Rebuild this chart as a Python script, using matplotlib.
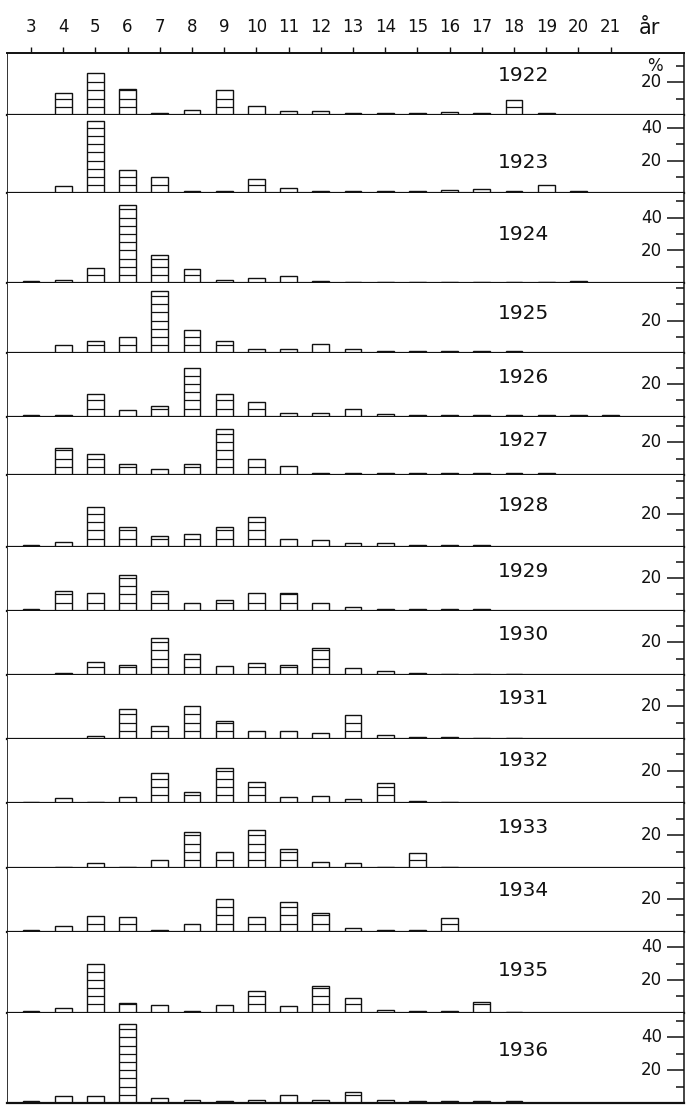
import numpy as np
import matplotlib
matplotlib.use('Agg')
import matplotlib.pyplot as plt
from matplotlib import transforms

# Ålder (år) och årsklasser
alder = list(range(3, 22))
ar = [1922, 1923, 1924, 1925, 1926, 1927, 1928, 1929,
      1930, 1931, 1932, 1933, 1934, 1935, 1936]

# Procentuell åldersfördelning, ålder 3..21
p1922 = [0, 13.5, 25.5, 16, 1.5, 3, 15, 5.5, 2.2, 2.5, 1.2, 1.2, 1.5, 2, 1.2, 9, 1.2, 0, 0]
p1923 = [0, 4.3, 44, 14, 10, 1.2, 1.2, 9, 3.5, 1.5, 1.2, 1.2, 1.5, 2, 2.5, 1.2, 5, 1.2, 0]
p1924 = [1.2, 2, 9.5, 47.5, 17.5, 8.8, 2, 3, 4.2, 1.2, 1, 1, 1, 1, 1, 1, 1, 1.2, 0]
p1925 = [0, 5, 7.5, 10, 38, 14, 7.5, 2.5, 2.5, 5.5, 2.5, 1.2, 1.2, 1.2, 1.2, 1.2, 0, 0, 0]
p1926 = [1, 1, 13.6, 4, 6.7, 29.5, 13.6, 8.8, 2.5, 2.5, 4.5, 1.5, 1.2, 1.2, 1.2, 1.2, 1.3, 1.2, 1]
p1927 = [0, 16.3, 12.8, 6.7, 3.7, 6.7, 28, 9.8, 5.3, 1.5, 1.5, 1.5, 1.5, 1, 1, 1, 1, 0, 0]
p1928 = [1, 3, 24, 12.2, 6.5, 8, 12.2, 18, 4.7, 3.9, 2, 2, 1.2, 1, 1, 0, 0, 0, 0]
p1929 = [1, 12.2, 10.6, 21.8, 12.2, 4.5, 6.5, 10.6, 11, 4.5, 2, 1.2, 1.2, 1.2, 1, 0, 0, 0, 0]
p1930 = [0, 1, 8.2, 6.1, 22.4, 12.8, 5.5, 7.5, 5.9, 16.3, 4.5, 2.4, 1.2, 0.6, 0.6, 0.6, 0, 0, 0]
p1931 = [0, 0, 2, 18, 8, 20, 11.2, 4.7, 4.7, 3.9, 14.8, 2.4, 1.2, 1.2, 0.6, 0.6, 0, 0, 0]
p1932 = [1, 3.5, 1, 3.9, 18.7, 6.9, 21.8, 13.2, 3.9, 4.3, 2.8, 12.6, 1.2, 1, 0, 0, 0, 0, 0]
p1933 = [0, 1, 3.5, 1, 4.9, 22, 10.2, 23.4, 11.8, 4, 3.3, 1, 9.1, 0.6, 0, 0, 0, 0, 0]
p1934 = [1, 3.3, 9.3, 9, 1, 4.7, 19.7, 9.1, 17.9, 11.2, 2.4, 1.2, 1, 8.1, 0, 0, 0, 0, 0]
p1935 = [1, 2.6, 29.9, 6.1, 4.9, 1, 4.7, 13.2, 4, 16.3, 8.7, 1.5, 1.2, 1, 6.7, 0.5, 0, 0, 0]
p1936 = [1, 4.5, 4.5, 48, 3, 1.6, 1, 2, 5, 1.6, 6.5, 2, 1, 1, 1, 1.5, 0, 0, 0]

fordelning = [p1922, p1923, p1924, p1925, p1926, p1927, p1928, p1929,
              p1930, p1931, p1932, p1933, p1934, p1935, p1936]

# Skalmarkeringar med siffror per panel
etiketter = [[20], [20, 40], [20, 40], [20], [20], [20], [20], [20],
             [20], [20], [20], [20], [20], [20, 40], [20, 40]]

# Layout (pixlar i originalet)
granser = [53, 115, 193.3, 283.3, 353.3, 416.7, 475, 546.7, 610.7,
           675, 739, 803.3, 868.3, 931.7, 1012.7, 1103]
px_per_procent = 1.64
ar_text_y = [24, 19, 30, 24, 24, 21, 25, 24, 25, 25, 26, 25, 25, 26, 32]

W, H = 687, 1107
fig = plt.figure(figsize=(W / 100, H / 100), dpi=100)
plt.rcParams['font.family'] = 'DejaVu Sans'

hojder = np.diff(granser)
gs = fig.add_gridspec(len(ar), 1, height_ratios=hojder, hspace=0,
                      left=7.3 / W, right=684 / W,
                      top=1 - granser[0] / H, bottom=1 - granser[-1] / H)

farg = '#111111'
xmin = 3 + (7.3 - 31) / 32.2
xmax = 3 + (684 - 31) / 32.2

for i, (year, vals) in enumerate(zip(ar, fordelning)):
    ax = fig.add_subplot(gs[i])
    ytop = hojder[i] / px_per_procent
    ax.set_xlim(xmin, xmax)
    ax.set_ylim(0, ytop)

    ax.bar(alder, vals, width=0.52, color='white', edgecolor=farg, linewidth=1.0, zorder=2)
    # tvärstreck var 5:e procent
    for a, v in zip(alder, vals):
        for lvl in np.arange(5, v - 0.6, 5):
            ax.hlines(lvl, a - 0.26, a + 0.26, color=farg, linewidth=0.9, zorder=3)

    for s in ['top', 'bottom', 'left', 'right']:
        ax.spines[s].set_color(farg)
    ax.spines['bottom'].set_linewidth(1.6)
    ax.spines['left'].set_linewidth(0.6)
    ax.spines['right'].set_linewidth(1.1)
    ax.spines['top'].set_linewidth(1.4 if i == 0 else 0)

    # högra skalan
    ax.yaxis.tick_right()
    maj = etiketter[i]
    mino = [t for t in np.arange(10, ytop, 10) if t not in maj]
    ax.set_yticks(maj)
    ax.set_yticks(mino, minor=True)
    ax.set_yticklabels([])
    ax.tick_params(axis='y', which='major', direction='in', length=12, width=1.1, color=farg)
    ax.tick_params(axis='y', which='minor', direction='in', length=6, width=1.1, color=farg)
    trans = transforms.blended_transform_factory(ax.transAxes, ax.transData)
    for t in maj:
        ax.text(0.968, t, str(t), transform=trans, ha='right', va='center',
                fontsize=12, color=farg)
    if i == 0:
        ax.text(0.968, 30, '%', transform=trans, ha='right', va='center',
                fontsize=12, color=farg)

    ax.text(18.3, ar_text_y[i], str(year), ha='center', va='center',
            fontsize=14.5, color=farg)

    if i == 0:
        ax.xaxis.tick_top()
        ax.set_xticks(alder)
        ax.set_xticklabels([str(a) for a in alder], fontsize=12, color=farg)
        ax.tick_params(axis='x', which='major', direction='out', length=4,
                       width=1.0, color=farg, pad=8)
        ax.annotate('år', xy=(22.2, 1), xycoords=('data', 'axes fraction'),
                    xytext=(0, 18), textcoords='offset points',
                    ha='center', va='center', fontsize=15, color=farg)
    else:
        ax.set_xticks([])

fig.savefig('out.png', dpi=100, facecolor='white')
